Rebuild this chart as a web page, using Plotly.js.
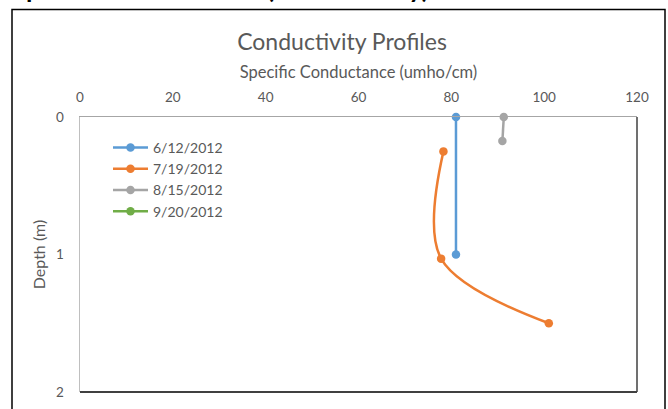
<!DOCTYPE html>
<html>
<head>
<meta charset="utf-8">
<script src="https://cdn.plot.ly/plotly-3.0.1.min.js"></script>
<style>
  html, body { margin: 0; padding: 0; background: #ffffff; }
  #chart { width: 668px; height: 409px; }
</style>
</head>
<body>
<div id="chart"></div>
<script>
// Series names
var seriesNames = ["6/12/2012", "7/19/2012", "8/15/2012", "9/20/2012"];
var seriesColors = ["#5B9BD5", "#ED7D31", "#A5A5A5", "#70AD47"];

// Specific conductance (umho/cm) and depth (m) per sampling date
var cond_0612 = [81.0, 81.0];
var depth_0612 = [0, 1.0];

var cond_0719 = [78.3, 77.8, 101.0];
var depth_0719 = [0.25, 1.03, 1.5];

var cond_0815 = [91.3, 91.0];
var depth_0815 = [0, 0.175];

var cond_0920 = [null];
var depth_0920 = [null];

var xTicks = [0, 20, 40, 60, 80, 100, 120];
var yTicks = [0, 1, 2];

var condSets = [cond_0612, cond_0719, cond_0815, cond_0920];
var depthSets = [depth_0612, depth_0719, depth_0815, depth_0920];

var traces = seriesNames.map(function (name, i) {
  return {
    type: "scatter",
    mode: "lines+markers",
    name: name,
    x: condSets[i],
    y: depthSets[i],
    line: { color: seriesColors[i], width: 2.5, shape: "spline", smoothing: 1 },
    marker: { color: seriesColors[i], size: 8.5 },
    cliponaxis: false
  };
});

var fontFam = "Lato, 'Open Sans', sans-serif";

// px helpers for paper coordinates (plot area 80..637 x, 117..392 y)
function px(x) { return (x - 80) / 557; }
function py(y) { return (392 - y) / 275; }

var layout = {
  width: 668,
  height: 409,
  margin: { l: 80, r: 31, t: 117, b: 17 },
  paper_bgcolor: "#ffffff",
  plot_bgcolor: "#ffffff",
  font: { family: fontFam, color: "#595959", size: 13 },
  showlegend: true,
  title: {
    text: "Conductivity Profiles",
    font: { family: fontFam, size: 23, color: "#595959" },
    xref: "container", x: 0.512, xanchor: "center",
    yref: "container", y: 1 - 42 / 409, yanchor: "middle"
  },
  xaxis: {
    side: "top",
    range: [0, 120],
    tickvals: xTicks,
    ticktext: xTicks.map(String),
    showgrid: false,
    zeroline: false,
    showline: true,
    linecolor: "#A6A6A6",
    linewidth: 1.5,
    ticks: "",
    ticklabelstandoff: 8,
    tickfont: { size: 13.5, color: "#595959" },
    title: {
      text: "Specific Conductance (umho/cm)",
      font: { size: 16.5, color: "#595959" },
      standoff: 6
    }
  },
  yaxis: {
    range: [2, 0],
    tickvals: yTicks,
    ticktext: yTicks.map(String),
    showgrid: false,
    zeroline: false,
    showline: true,
    linecolor: "#BFBFBF",
    linewidth: 1.5,
    ticks: "",
    ticklabelstandoff: 12,
    tickfont: { size: 13.5, color: "#595959" },
    title: {
      text: "Depth (m)",
      font: { size: 16, color: "#595959" },
      standoff: 6
    }
  },
  legend: {
    x: px(108), y: py(132),
    xanchor: "left", yanchor: "top",
    bgcolor: "rgba(0,0,0,0)",
    borderwidth: 0,
    itemwidth: 35,
    font: { size: 14, color: "#595959" },
    tracegroupgap: 0
  },
  shapes: [
    // outer chart border
    { type: "rect", xref: "paper", yref: "paper",
      x0: px(12), x1: px(665), y0: py(430), y1: py(9.5),
      line: { color: "#000000", width: 1.5 }, layer: "below" },
    // plot area right and bottom border
    { type: "line", xref: "paper", yref: "paper",
      x0: 1, x1: 1, y0: 0, y1: 1,
      line: { color: "#404040", width: 1.5 } },
    { type: "line", xref: "paper", yref: "paper",
      x0: 0, x1: 1, y0: 0, y1: 0,
      line: { color: "#404040", width: 2 } }
  ],
  annotations: [
    { xref: "paper", yref: "paper",
      x: px(10), y: py(-12.5), xanchor: "left", yanchor: "middle",
      text: "<b>Specific Conductance (Conductivity)</b>",
      showarrow: false,
      font: { family: "Lato, sans-serif", size: 26, color: "#000000" } }
  ]
};

Plotly.newPlot("chart", traces, layout, { displayModeBar: false, staticPlot: true });
</script>
</body>
</html>
